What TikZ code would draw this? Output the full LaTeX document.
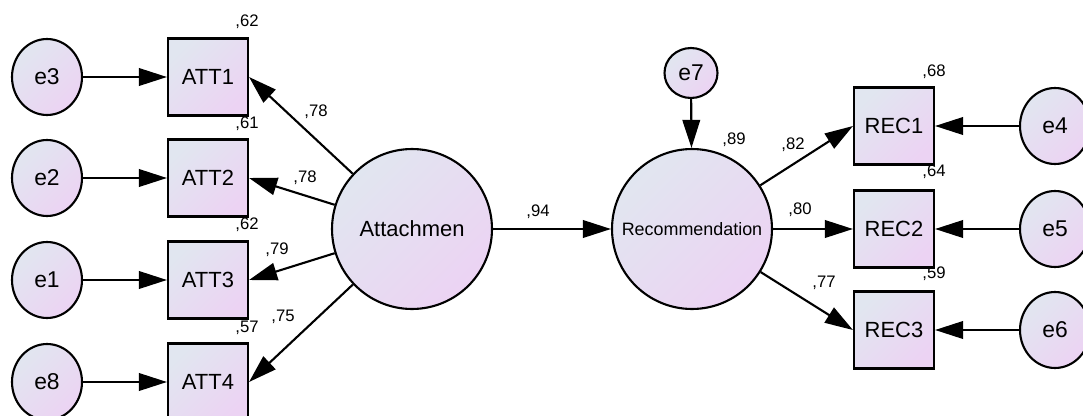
\documentclass[tikz,border=0pt]{standalone}
\usepackage{fontspec}
\setmainfont{Liberation Sans}
\usetikzlibrary{arrows.meta,shapes.geometric,positioning}

\definecolor{fillA}{HTML}{E1E6F0}
\definecolor{fillB}{HTML}{ECD3F3}

\begin{document}
\begin{tikzpicture}[
    x=0.02cm, y=-0.02cm,
    shadefill/.style={top color=fillA, bottom color=fillB, shading angle=45},
    err/.style={draw, ellipse, line width=1.2pt, shadefill, minimum width=1.4cm, minimum height=1.52cm, inner sep=0pt, font=\fontsize{13}{15}\selectfont},
    item/.style={draw, rectangle, line width=1.2pt, shadefill, minimum width=1.6cm, minimum height=1.54cm, inner sep=0pt, font=\fontsize{12.5}{15}\selectfont},
    latent/.style={draw, circle, line width=1.2pt, shadefill, minimum size=3.2cm, inner sep=0pt, font=\fontsize{12.5}{15}\selectfont},
    est/.style={inner sep=0pt, font=\fontsize{9.5}{11}\selectfont},
    arr/.style={-{Triangle[length=16pt, width=10pt]}, line width=1.2pt}
]
\useasboundingbox (0,0) rectangle (1083,416);

% error terms, left side
\node[err] (e3) at (47,77) {e3};
\node[err] (e2) at (47,178) {e2};
\node[err] (e1) at (47,280) {e1};
\node[err] (e8) at (47,382) {e8};

% indicators of Attachmen
\node[item] (att1) at (208,77) {ATT1};
\node[item] (att2) at (208,178) {ATT2};
\node[item] (att3) at (208,280) {ATT3};
\node[item] (att4) at (208,382) {ATT4};

% latent variables
\node[latent] (att) at (412,229) {Attachmen};
\node[latent, font=\fontsize{10.2}{12}\selectfont] (rec) at (692,229) {Recommendation};
\node[err, minimum width=1.06cm, minimum height=1.0cm] (e7) at (691,73) {e7};

% indicators of Recommendation
\node[item] (rec1) at (894,126) {REC1};
\node[item] (rec2) at (894,229) {REC2};
\node[item] (rec3) at (894,330) {REC3};

% error terms, right side
\node[err] (e4) at (1055,126) {e4};
\node[err] (e5) at (1055,229) {e5};
\node[err] (e6) at (1055,330) {e6};

\draw[arr] (e3) -- (att1);
\draw[arr] (e2) -- (att2);
\draw[arr] (e1) -- (att3);
\draw[arr] (e8) -- (att4);
\draw[arr] (att) -- (att1.east);
\draw[arr] (att) -- (att2.east);
\draw[arr] (att) -- (att3.east);
\draw[arr] (att) -- (att4.east);
\draw[arr] (att) -- (rec);
\draw[arr] (e7) -- (rec);
\draw[arr] (rec) -- (rec1.west);
\draw[arr] (rec) -- (rec2.west);
\draw[arr] (rec) -- (rec3.west);
\draw[arr] (e4) -- (rec1);
\draw[arr] (e5) -- (rec2);
\draw[arr] (e6) -- (rec3);

% squared multiple correlations
\node[est] (r1) at (247,22) {,62};
\node[est] (r2) at (247,124) {,61};
\node[est] (r3) at (247,225) {,62};
\node[est] (r4) at (247,328) {,57};
\node[est] (r5) at (734,140) {,89};
\node[est] (r6) at (934,72) {,68};
\node[est] (r7) at (934,172) {,64};
\node[est] (r8) at (934,274) {,59};

% loadings and path weight
\node[est] (w1) at (316,112) {,78};
\node[est] (w2) at (305,178) {,78};
\node[est] (w3) at (277,250) {,79};
\node[est] (w4) at (283,317) {,75};
\node[est] (w5) at (538,212) {,94};
\node[est] (w6) at (793,145) {,82};
\node[est] (w7) at (800,210) {,80};
\node[est] (w8) at (824,283) {,77};
\end{tikzpicture}
\end{document}
